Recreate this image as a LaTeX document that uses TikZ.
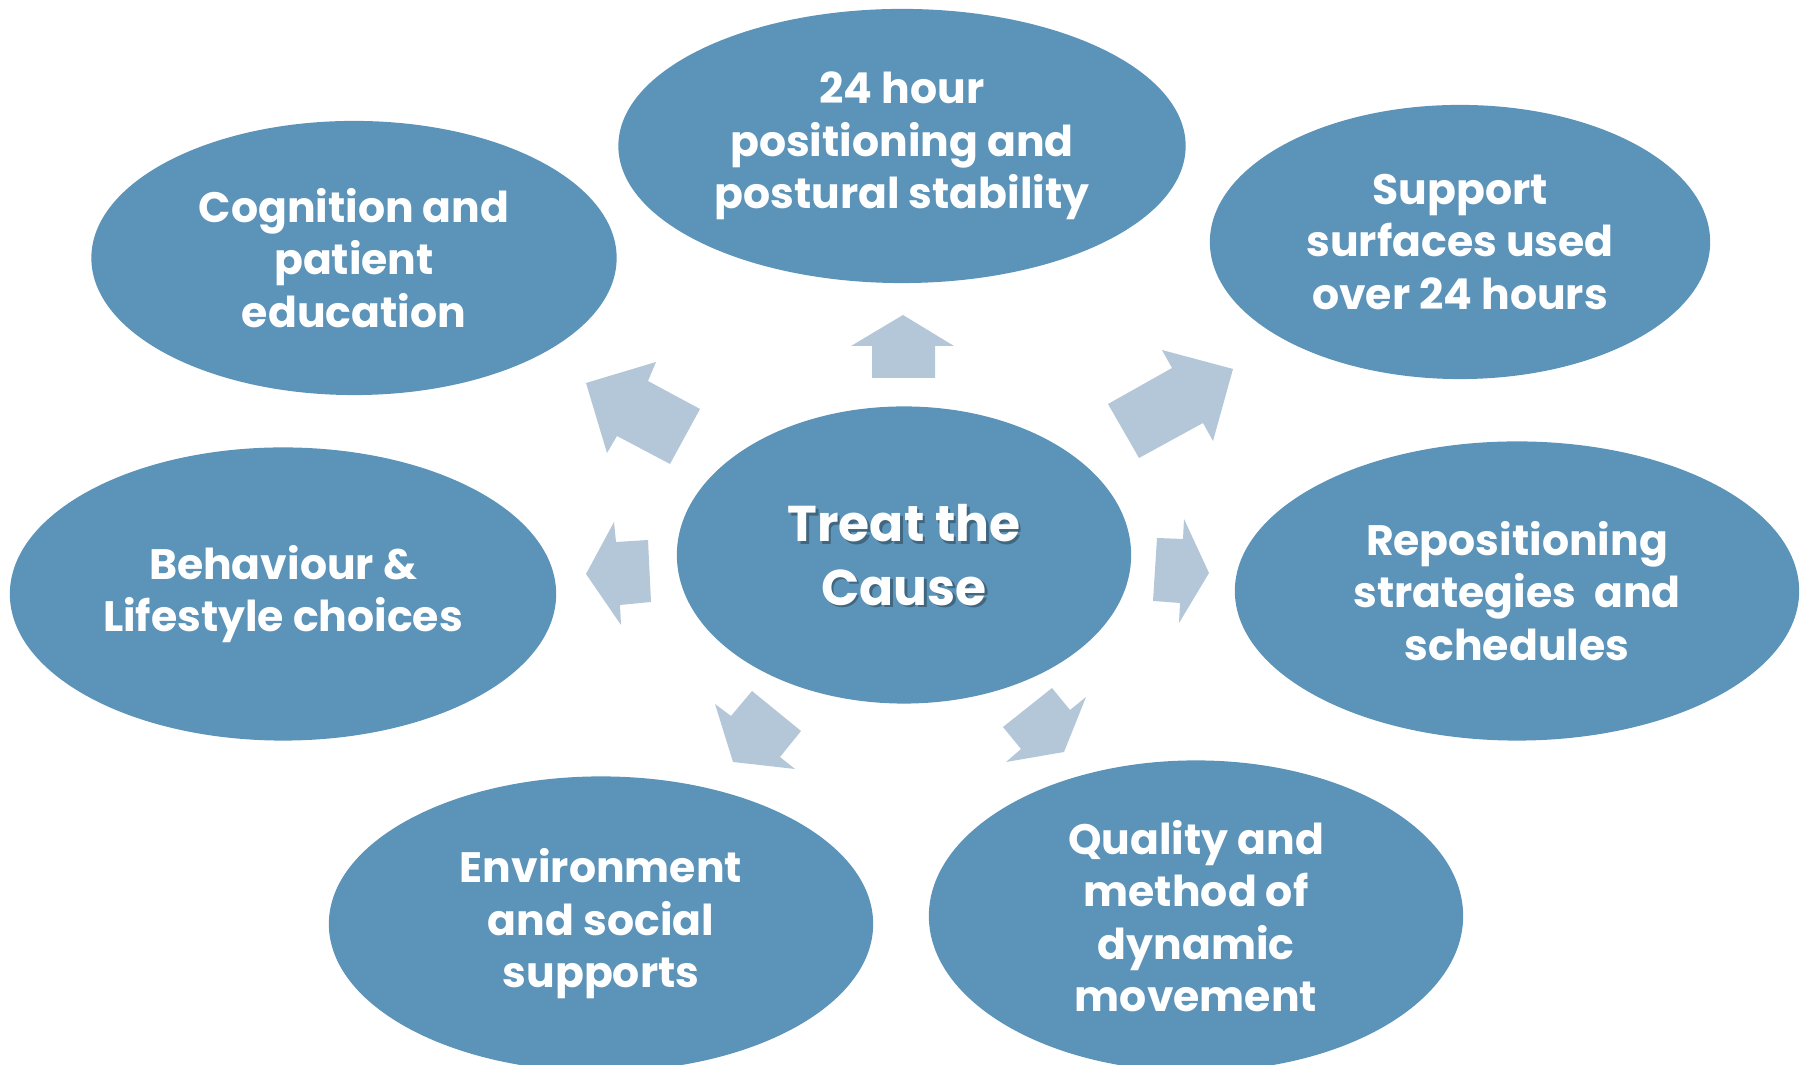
\documentclass[tikz,border=0pt]{standalone}
\usepackage{fontspec}
\setmainfont{Poppins}
\usetikzlibrary{shapes.geometric}

\definecolor{causeblue}{RGB}{92,147,184}
\definecolor{arrowgray}{RGB}{180,199,216}

\tikzset{
  bubble/.style={ellipse, fill=causeblue, text=white, align=center, inner sep=0pt,
    font=\fontsize{12.1}{14.9}\selectfont\bfseries},
  causetext/.style={text=white, align=center, inner sep=0pt,
    font=\fontsize{14.3}{18}\selectfont\bfseries},
  blockarrow/.style={fill=arrowgray},
}

\begin{document}
\begin{tikzpicture}[x=0.01cm, y=-0.01cm]
\useasboundingbox (0,0) rectangle (1806,1065);

% outer bubbles
\node[bubble, minimum width=5.67cm, minimum height=2.74cm] (hours) at (902,146) {24 hour\\positioning and\\postural stability};
\node[bubble, minimum width=5.25cm, minimum height=2.74cm] (cognition) at (354,258) {Cognition and\\patient\\education};
\node[bubble, minimum width=5.00cm, minimum height=2.74cm] (support) at (1460,242) {Support\\surfaces used\\over 24 hours};
\node[bubble, minimum width=5.46cm, minimum height=2.93cm] (behaviour) at (283,594) {Behaviour \&\\Lifestyle choices};
\node[bubble, minimum width=5.64cm, minimum height=2.99cm] (reposition) at (1517,591) {Repositioning\\strategies~ and\\schedules};
\node[bubble, minimum width=5.44cm, minimum height=2.95cm] (environment) at (601,924) {Environment\\and social\\supports};
\node[bubble, minimum width=5.34cm, minimum height=3.11cm] (quality) at (1196,916) {Quality and\\method of\\dynamic\\movement};

% centre
\node[bubble, minimum width=4.54cm, minimum height=2.97cm] (cause) at (904,555) {};
\node[causetext, text=black, opacity=0.3] (causeshadow) at ([shift={(2.5,2.5)}]cause.center) {Treat the\\Cause};
\node[causetext] (causelabel) at (cause.center) {Treat the\\Cause};

% block arrows
\fill[blockarrow] (903,315) -- (954,346) -- (935,346) -- (935,378) -- (872,378) -- (872,346) -- (851,346) -- cycle;
\fill[blockarrow] (586,383) -- (656,362) -- (648,381) -- (700,409) -- (670,464) -- (617,436) -- (607,453) -- cycle;
\fill[blockarrow] (1233,369) -- (1213,441) -- (1203,423) -- (1139,458) -- (1108,404) -- (1172,368) -- (1162,350) -- cycle;
\fill[blockarrow] (586,574) -- (614,522) -- (616,542) -- (648,540) -- (651,602) -- (620,605) -- (621,625) -- cycle;
\fill[blockarrow] (1209,573) -- (1179,623) -- (1180,603) -- (1153,601) -- (1157,538) -- (1183,539) -- (1184,519) -- cycle;
\fill[blockarrow] (733,762) -- (715,704) -- (731,716) -- (752,691) -- (801,731) -- (780,757) -- (795,769) -- cycle;
\fill[blockarrow] (1006,762) -- (1021,749) -- (1003,727) -- (1052,688) -- (1070,710) -- (1086,697) -- (1064,752) -- cycle;

\end{tikzpicture}
\end{document}
